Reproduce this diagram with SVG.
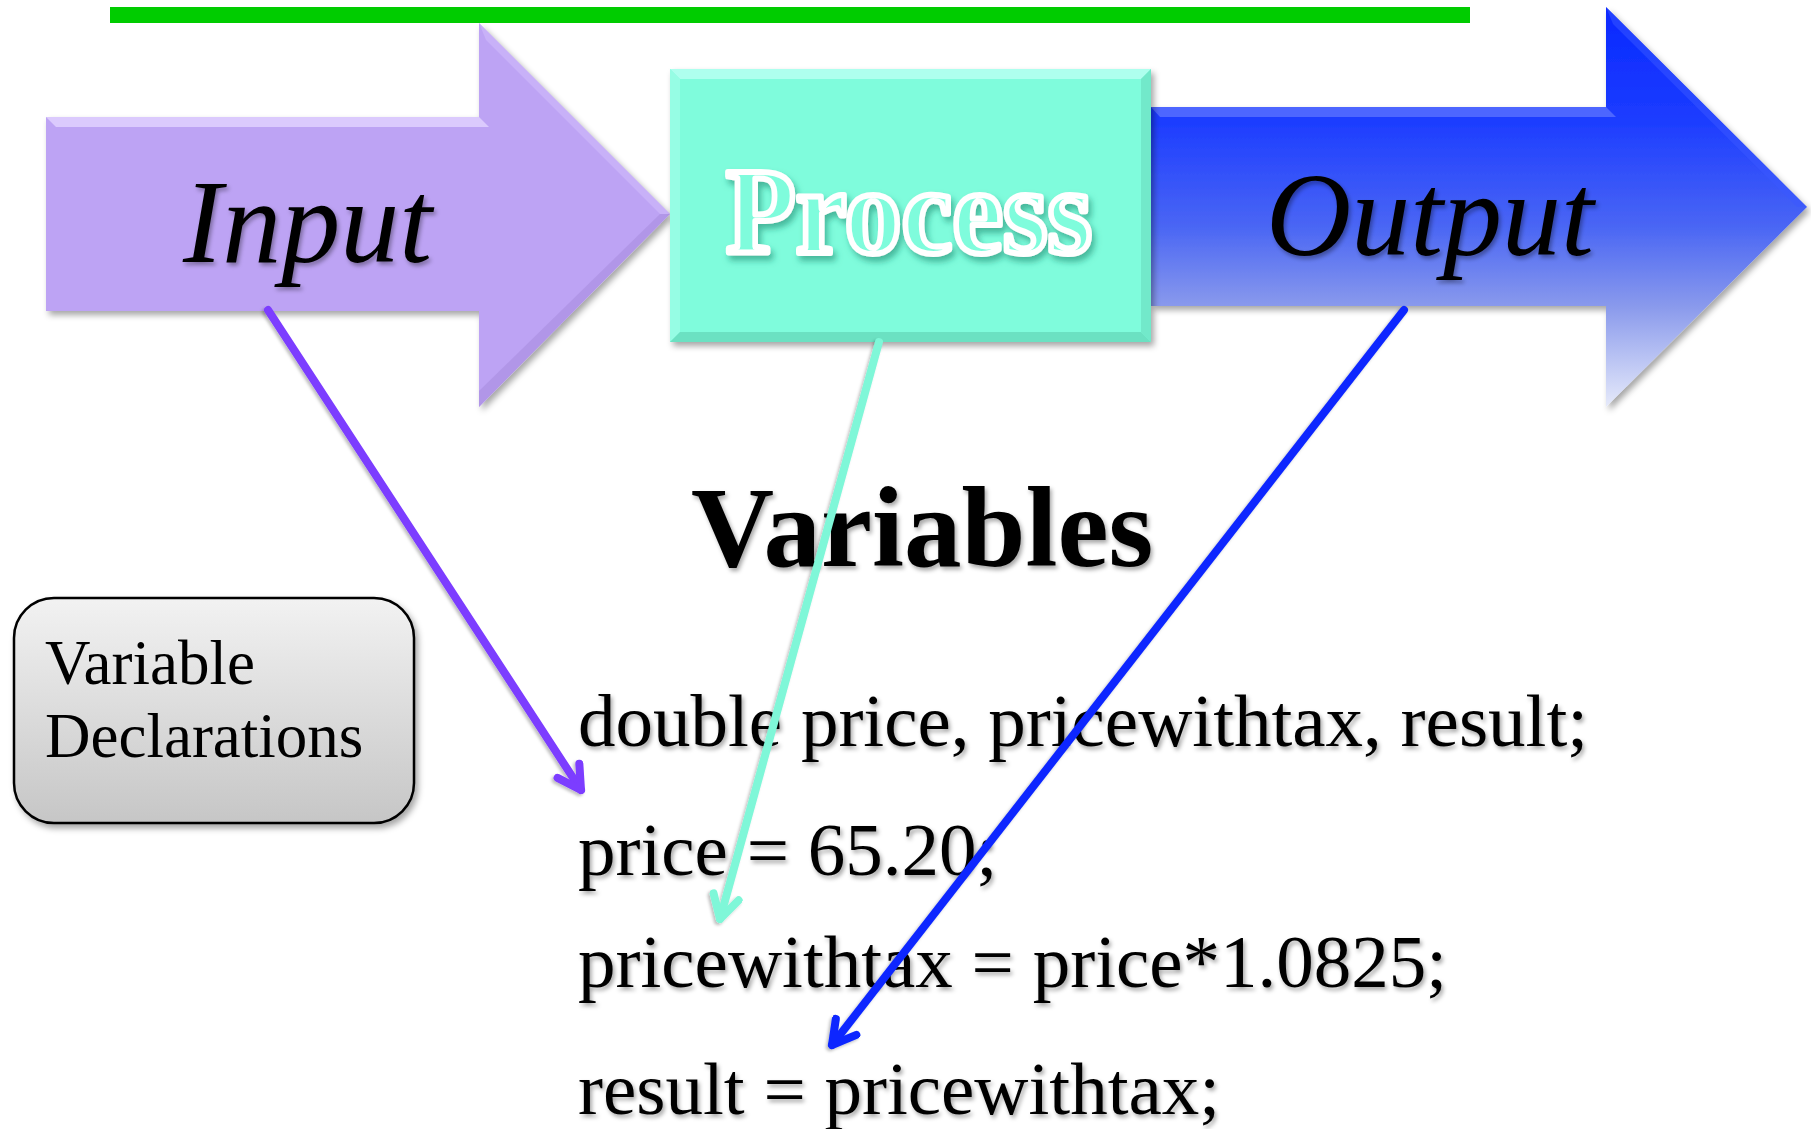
<svg xmlns="http://www.w3.org/2000/svg" width="1811" height="1129" viewBox="0 0 1811 1129">
<style>
.t{font-family:"Liberation Serif","Times New Roman",serif;fill:#000}
.code{font-size:75px}
.big{font-size:118px;font-style:italic}
</style>
<defs>
<linearGradient id="gOut" x1="0" y1="7" x2="0" y2="407" gradientUnits="userSpaceOnUse">
<stop offset="0" stop-color="#0828ff"/>
<stop offset="0.28" stop-color="#1c3cff"/>
<stop offset="0.55" stop-color="#4a66f4"/>
<stop offset="0.75" stop-color="#8a9aec"/>
<stop offset="1" stop-color="#e6eafa"/>
</linearGradient>
<linearGradient id="gBox" x1="0" y1="0" x2="0" y2="1">
<stop offset="0" stop-color="#f2f2f2"/>
<stop offset="1" stop-color="#c6c6c6"/>
</linearGradient>
<filter id="sh" x="-10%" y="-10%" width="130%" height="130%">
<feDropShadow dx="3" dy="4" stdDeviation="3" flood-color="#000" flood-opacity="0.35"/>
</filter>
<filter id="tsh" x="-10%" y="-10%" width="130%" height="140%">
<feDropShadow dx="2" dy="3" stdDeviation="2" flood-color="#000" flood-opacity="0.35"/>
</filter>
<filter id="lsh" x="-10%" y="-10%" width="130%" height="130%">
<feDropShadow dx="-2" dy="2" stdDeviation="1.5" flood-color="#000" flood-opacity="0.25"/>
</filter>
<filter id="psh" x="-10%" y="-10%" width="130%" height="140%">
<feDropShadow dx="3" dy="5" stdDeviation="3" flood-color="#1f8a70" flood-opacity="0.6"/>
</filter>
<filter id="wsh" x="-10%" y="-100%" width="130%" height="300%">
<feDropShadow dx="0" dy="1" stdDeviation="1" flood-color="#777" flood-opacity="0.9"/>
</filter>
<marker id="aP" viewBox="0 0 34 34" refX="29" refY="17" markerWidth="34" markerHeight="34" orient="auto" markerUnits="userSpaceOnUse">
<path d="M6,4 L29,17 L6,30" fill="none" stroke="#7c3cff" stroke-width="8" stroke-linecap="round" stroke-linejoin="round"/>
</marker>
<marker id="aT" viewBox="0 0 34 34" refX="29" refY="17" markerWidth="34" markerHeight="34" orient="auto" markerUnits="userSpaceOnUse">
<path d="M6,4 L29,17 L6,30" fill="none" stroke="#7ff7d8" stroke-width="8" stroke-linecap="round" stroke-linejoin="round"/>
</marker>
<marker id="aB" viewBox="0 0 34 34" refX="29" refY="17" markerWidth="34" markerHeight="34" orient="auto" markerUnits="userSpaceOnUse">
<path d="M6,4 L29,17 L6,30" fill="none" stroke="#0a28ff" stroke-width="8" stroke-linecap="round" stroke-linejoin="round"/>
</marker>
<marker id="aW" viewBox="0 0 20 20" refX="18" refY="10" markerWidth="20" markerHeight="20" orient="auto" markerUnits="userSpaceOnUse">
<path d="M4,3 L18,10 L4,17" fill="none" stroke="#ffffff" stroke-width="2.5" stroke-linecap="round" stroke-linejoin="round"/>
</marker>
</defs>
<rect width="1811" height="1129" fill="#ffffff"/>
<rect id="greenbar" x="110" y="7" width="1360" height="16" fill="#00cc00"/>

<g id="input">
<polygon points="46,117 479,117 479,23 670,214 479,407 479,311 46,311" fill="#bda3f4" filter="url(#sh)"/>
<polygon points="46,117 479,117 489,127 56,127" fill="#e2d3ff" opacity="0.8"/>
<polygon points="479,23 670,214 660,214 486,40" fill="#cdb7fa" opacity="0.7"/>
<polygon points="670,214 479,407 479,391 660,214" fill="#a98ee0" opacity="0.6"/>
<text class="t big" x="183" y="262" filter="url(#tsh)">Input</text>
</g>

<g id="output">
<polygon points="1151,107 1606,107 1606,7 1807,207 1606,407 1606,306 1151,306" fill="url(#gOut)" filter="url(#sh)"/>
<polygon points="1151,107 1606,107 1616,117 1160,117" fill="#6e84ff" opacity="0.6"/>
<polygon points="1606,7 1807,207 1797,207 1613,24" fill="#3a58ff" opacity="0.5"/>
<text class="t big" x="1266" y="255" filter="url(#tsh)">Output</text>
</g>

<g id="process">
<rect x="670" y="69" width="481" height="273" fill="#7ffcdc" filter="url(#sh)"/>
<polygon points="670,69 1151,69 1141,79 680,79" fill="#b4fff0" opacity="0.9"/>
<polygon points="670,69 680,79 680,332 670,342" fill="#9cfde6" opacity="0.8"/>
<polygon points="670,342 680,332 1141,332 1151,342" fill="#66d9bc" opacity="0.8"/>
<polygon points="1151,69 1151,342 1141,332 1141,79" fill="#6fe3c6" opacity="0.8"/>
<text class="t" x="726" y="253" font-size="122" font-weight="bold" textLength="366" lengthAdjust="spacingAndGlyphs" stroke="#ffffff" stroke-width="6" stroke-linejoin="round" filter="url(#psh)" style="fill:#7ffcdc">Process</text>
</g>

<g id="variables-title">
<text class="t" x="691" y="566" font-size="115" font-weight="bold" filter="url(#tsh)">Variables</text>
</g>

<g id="decl-box">
<rect x="14" y="598" width="400" height="225" rx="40" ry="40" fill="url(#gBox)" stroke="#000" stroke-width="2.5" filter="url(#sh)"/>
<text class="t" x="45" y="684" font-size="63">Variable</text>
<text class="t" x="45" y="757" font-size="63">Declarations</text>
</g>

<g id="code" filter="url(#tsh)">
<text class="t code" x="578" y="746">double price, pricewithtax, result;</text>
<text class="t code" x="578" y="875">price = 65.20;</text>
<text class="t code" x="578" y="987">pricewithtax = price*1.0825;</text>
<text class="t code" x="578" y="1114">result = pricewithtax;</text>
</g>

<g id="connectors" fill="none" stroke-linecap="round" filter="url(#lsh)">
<line x1="268" y1="310" x2="581" y2="790" stroke="#7c3cff" stroke-width="8" marker-end="url(#aP)"/>
<line x1="879" y1="342" x2="720" y2="919" stroke="#7ff7d8" stroke-width="8" marker-end="url(#aT)"/>
<line x1="1404" y1="310" x2="832" y2="1045" stroke="#0a28ff" stroke-width="8" marker-end="url(#aB)"/>
<line x1="398" y1="727" x2="541" y2="727" stroke="#ffffff" stroke-width="2.5" marker-end="url(#aW)" filter="url(#wsh)"/>
</g>
</svg>
